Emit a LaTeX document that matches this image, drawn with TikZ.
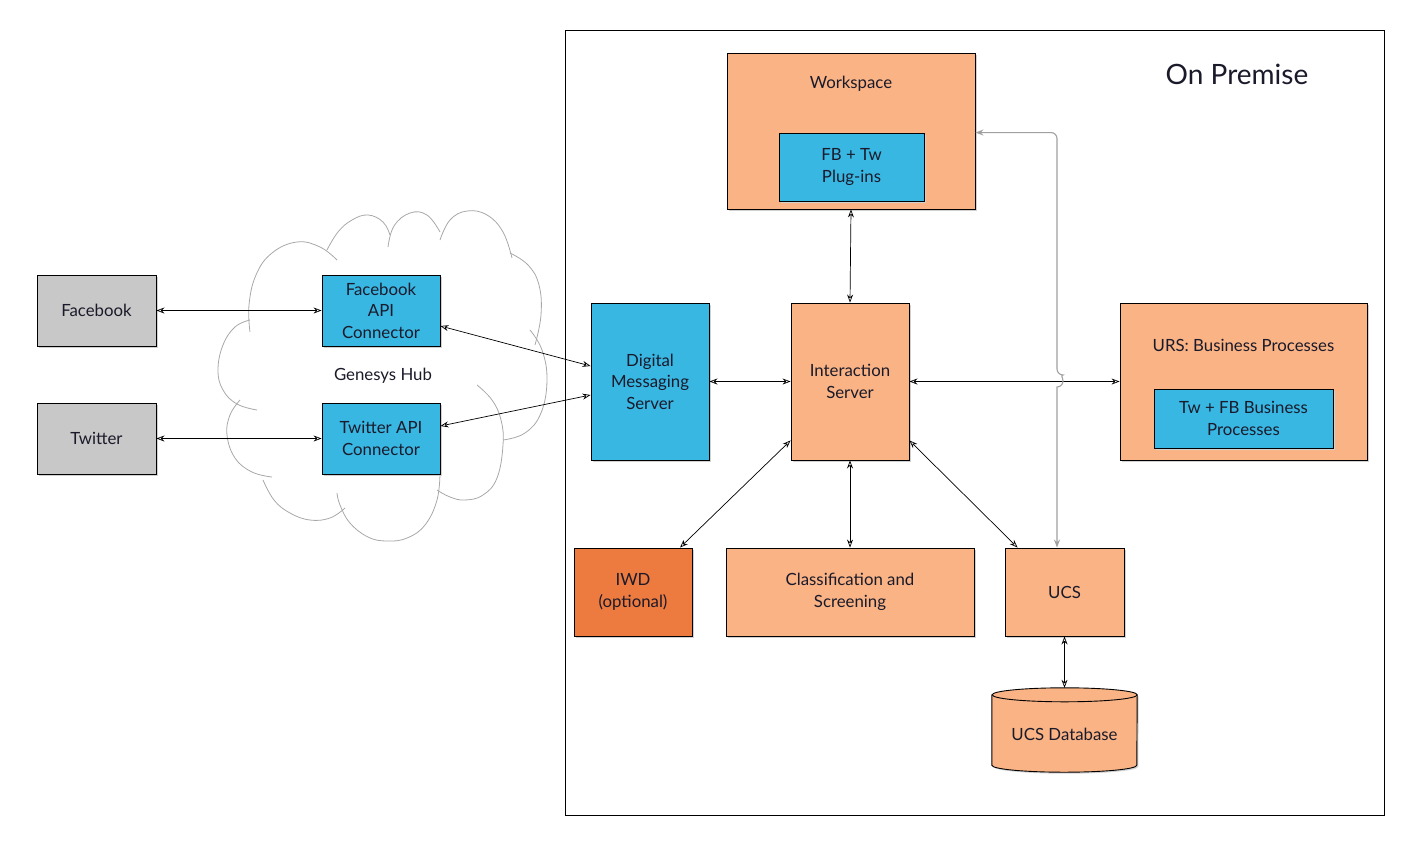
\documentclass[tikz,border=0pt]{standalone}
\usepackage{fontspec}
\setmainfont{Lato}
\usetikzlibrary{arrows.meta,shadows,calc}
\definecolor{peach}{HTML}{F9B385}
\definecolor{sky}{HTML}{38B7E3}
\definecolor{lgray}{HTML}{C8C8C8}
\definecolor{iwdc}{HTML}{ED7B3F}
\definecolor{txt}{HTML}{1A1A2A}
\definecolor{cloudc}{HTML}{A8A8A8}
\definecolor{gline}{HTML}{A0A0A0}
\begin{document}
\begin{tikzpicture}[x=1pt,y=-1pt,
  font=\fontsize{16.8}{21.5}\selectfont, text=txt,
  box/.style={draw=black, line width=0.9pt, align=center, inner sep=2pt,
    drop shadow={shadow xshift=1.5pt, shadow yshift=-1.5pt, fill=black!18, opacity=1}},
  obox/.style={box, fill=peach},
  bbox/.style={box, fill=sky},
  gbox/.style={box, fill=lgray},
  lobe/.style={draw=cloudc, line width=0.8pt},
  conn/.style={line width=0.7pt, draw=black, {Stealth[open,length=8pt,width=6pt]}-{Stealth[open,length=8pt,width=6pt]}},
  gconn/.style={line width=1.1pt, draw=gline, {Stealth[open,length=8pt,width=6pt]}-{Stealth[open,length=8pt,width=6pt]}}
]
\useasboundingbox (0,0) rectangle (1409,847);
% frame
\node[draw=black, line width=0.9pt, minimum width=819pt, minimum height=785pt, inner sep=0pt] (prem) at (974.5,422.5) {};
\node[font=\fontsize{28}{32}\selectfont] (premt) at (1237,74) {On Premise};
% cloud (Genesys Hub)
\draw[lobe] plot[smooth, tension=0.7] coordinates {(250,332) (249,305) (256,275) (272,253) (297,242) (320,247) (337,260)};
\draw[lobe] plot[smooth, tension=0.7] coordinates {(327,250) (338,232) (352,220) (368,215) (383,222) (390,235)};
\draw[lobe] plot[smooth, tension=0.7] coordinates {(388,247) (394,226) (410,213) (427,215) (440,232)};
\draw[lobe] plot[smooth, tension=0.7] coordinates {(440,240) (450,220) (467,211) (487,215) (503,232) (512,258)};
\draw[lobe] plot[smooth, tension=0.7] coordinates {(510,253) (528,265) (539,285) (541,315) (535,345)};
\draw[lobe] plot[smooth, tension=0.7] coordinates {(530,330) (542,350) (547,380) (541,413) (525,433) (503,440)};
\draw[lobe] plot[smooth, tension=0.7] coordinates {(477,385) (492,400) (501,420) (503,445) (497,478) (483,495) (465,500) (450,497) (437,490)};
\draw[lobe] plot[smooth, tension=0.7] coordinates {(440,473) (437,500) (425,525) (407,538) (387,541) (368,537) (350,523) (340,505) (337,493)};
\draw[lobe] plot[smooth, tension=0.7] coordinates {(345,508) (330,518) (310,520) (290,513) (274,500) (263,480)};
\draw[lobe] plot[smooth, tension=0.7] coordinates {(272,477) (252,472) (235,458) (227,435) (230,415) (240,400)};
\draw[lobe] plot[smooth, tension=0.7] coordinates {(250,320) (235,327) (223,345) (218,370) (223,390) (237,404) (257,410)};
\node (hub) at (383,376) {Genesys Hub};
% boxes
\node[gbox, minimum width=119pt, minimum height=71pt] (fb) at (96.5,310.5) {Facebook};
\node[gbox, minimum width=119pt, minimum height=71pt] (tw) at (96.5,438.5) {Twitter};
\node[bbox, minimum width=118pt, minimum height=71pt] (fbapi) at (381,310.5) {Facebook\\API\\Connector};
\node[bbox, minimum width=118pt, minimum height=71pt] (twapi) at (381,438.5) {Twitter API\\Connector};
\node[obox, minimum width=248pt, minimum height=156pt,
  label={[anchor=center,yshift=-31.5pt]north:Workspace}] (ws) at (851,131) {};
\node[bbox, minimum width=145pt, minimum height=68pt] (plug) at (851.5,167) {FB + Tw\\Plug-ins};
\node[bbox, minimum width=118pt, minimum height=157pt] (dms) at (650,381.5) {Digital\\Messaging\\Server};
\node[obox, minimum width=118pt, minimum height=157pt] (is) at (850,381.5) {Interaction\\Server};
\node[obox, minimum width=247pt, minimum height=157pt,
  label={[anchor=center,yshift=-43pt]north:URS: Business Processes}] (urs) at (1243.5,381.5) {};
\node[bbox, minimum width=179pt, minimum height=59pt] (ursin) at (1243.5,418.5) {Tw + FB Business\\Processes};
\node[box, fill=iwdc, minimum width=118pt, minimum height=88pt] (iwd) at (633,592) {IWD\\(optional)};
\node[obox, minimum width=248pt, minimum height=88pt] (cls) at (850,592) {Classification and\\Screening};
\node[obox, minimum width=119pt, minimum height=88pt] (ucs) at (1064.5,592) {UCS};
% database cylinder
\node[minimum width=145pt, minimum height=84pt, inner sep=0pt] (db) at (1064.5,730) {};
\fill[black!18] ($(db.north west)+(1.5,8.5)$) -- ($(db.south west)+(1.5,-5.5)$)
  arc[start angle=180,end angle=360,x radius=72.5pt,y radius=7pt] -- ($(db.north east)+(1.5,8.5)$) -- cycle;
\filldraw[fill=peach, draw=black, line width=0.9pt] ($(db.north west)+(0,7)$) -- ($(db.south west)+(0,-7)$)
  arc[start angle=180,end angle=360,x radius=72.5pt,y radius=7pt] -- ($(db.north east)+(0,7)$)
  arc[start angle=0,end angle=180,x radius=72.5pt,y radius=7pt] -- cycle;
\draw[black, line width=0.9pt] ($(db.north east)+(0,7)$) arc[start angle=0,end angle=-180,x radius=72.5pt,y radius=7pt];
\node (dbt) at ($(db.center)+(0,4)$) {UCS Database};
% connectors
\draw[conn] (fb.east) -- (fbapi.west);
\draw[conn] (tw.east) -- (twapi.west);
\draw[conn] ($(fbapi.east)+(0,15.5)$) -- ($(dms.west)+(0,-15.5)$);
\draw[conn] ($(twapi.east)+(0,-12.5)$) -- ($(dms.west)+(0,13.5)$);
\draw[conn] (dms.east) -- (is.west);
\draw[conn] (ws.south) -- (is.north);
\draw[conn] (is.east) -- (urs.west);
\draw[conn] ($(is.south west)+(0,-20)$) -- ($(iwd.north)+(47,0)$);
\draw[conn] (is.south) -- (cls.north);
\draw[conn] ($(is.south east)+(0,-20)$) -- ($(ucs.north west)+(13,0)$);
\draw[conn] (ucs.south) -- (db.north);
\coordinate (hop) at (1057,381);
\draw[gconn] (ws.east |- plug.north) [rounded corners=6pt] -- (hop |- plug.north) -- ($(hop)+(0,-6)$) [sharp corners]
  arc[start angle=90,end angle=-90,radius=6pt] -- (hop |- ucs.north);
\end{tikzpicture}
\end{document}
